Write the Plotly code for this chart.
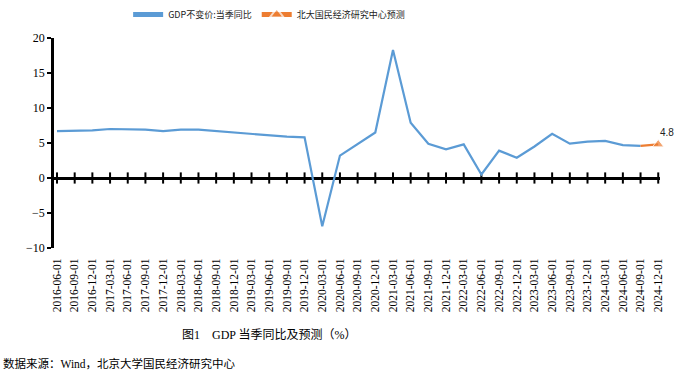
import plotly.graph_objects as go

categories = []
for y in range(2016, 2025):
    for m in ["03", "06", "09", "12"]:
        if y == 2016 and m == "03":
            continue
        categories.append(f"{y}-{m}-01")

gdp_values = [6.7, 6.7, 6.8, 7.0, 7.0, 6.9, 6.7, 6.9, 6.9, 6.7, 6.5, 6.3, 6.0, 5.9, 5.8,
              -6.9, 3.2, 4.8, 6.5, 18.3, 7.9, 4.9, 4.1, 4.8, 0.5, 3.9, 2.9, 4.5, 6.3,
              4.9, 5.2, 5.3, 4.7, 4.6]
forecast_categories = ["2024-09-01", "2024-12-01"]
forecast_values = [4.6, 4.8]

series_actual = "GDP不变价:当季同比"
series_forecast = "北大国民经济研究中心预测"
caption = "图1　GDP 当季同比及预测（%）"
source = "数据来源：Wind，北京大学国民经济研究中心"

fig = go.Figure()

# tick marks crossing the zero line at each category
fig.add_trace(go.Scatter(
    x=categories, y=[0] * len(categories), mode="markers",
    marker=dict(symbol="line-ns", size=8, line=dict(width=2, color="black")),
    showlegend=False, hoverinfo="skip", cliponaxis=False))

fig.add_trace(go.Scatter(
    x=categories[:len(gdp_values)], y=gdp_values, mode="lines", name=series_actual,
    line=dict(color="#5B9BD5", width=2.2)))

fig.add_trace(go.Scatter(
    x=forecast_categories, y=forecast_values, mode="lines+markers", name=series_forecast,
    line=dict(color="#ED7D31", width=2.2), cliponaxis=False,
    marker=dict(symbol="triangle-up", size=[0, 10], color="#ED7D31")))

fig.add_annotation(x=forecast_categories[-1], y=forecast_values[-1], text=str(forecast_values[-1]),
                   showarrow=False, xshift=9, yshift=12,
                   font=dict(family="Liberation Sans", size=10, color="#222"))

fig.add_annotation(xref="paper", yref="paper", x=0.355, y=-0.415, text=caption,
                   showarrow=False, xanchor="center", yanchor="middle",
                   font=dict(family="Liberation Serif, Noto Sans CJK SC", size=12, color="black"))
fig.add_annotation(xref="paper", yref="paper", x=-0.087, y=-0.548, text=source,
                   showarrow=False, xanchor="left", yanchor="middle",
                   font=dict(family="Liberation Serif, Noto Sans CJK SC", size=11.5, color="black"))

fig.update_layout(
    width=679, height=375,
    margin=dict(l=54, r=19, t=38, b=127, autoexpand=False),
    paper_bgcolor="white", plot_bgcolor="white",
    legend=dict(orientation="h", x=0.355, xanchor="center", y=1.0, yanchor="top",
                yref="container", font=dict(family="Noto Sans CJK SC", size=9, color="#222"),
                itemwidth=30, itemsizing="constant"),
    xaxis=dict(type="category", categoryorder="array", categoryarray=categories,
               range=[-0.17, 34.1], showgrid=False, showline=False, zeroline=False,
               tickangle=-90, ticks="outside", ticklen=5, tickcolor="rgba(0,0,0,0)",
               automargin=False,
               tickfont=dict(family="Liberation Serif", size=11.5, color="black")),
    yaxis=dict(range=[-10, 20], dtick=5, showgrid=False, showline=True, linecolor="black",
               linewidth=2.5, zeroline=True, zerolinecolor="black", zerolinewidth=2.5,
               ticks="outside", ticklen=4, tickwidth=2, tickcolor="black", automargin=False,
               tickfont=dict(family="Liberation Serif", size=12, color="black")),
)

fig.write_html("out.html", config={"displayModeBar": False},
               post_script="document.body.style.margin='0px';")
